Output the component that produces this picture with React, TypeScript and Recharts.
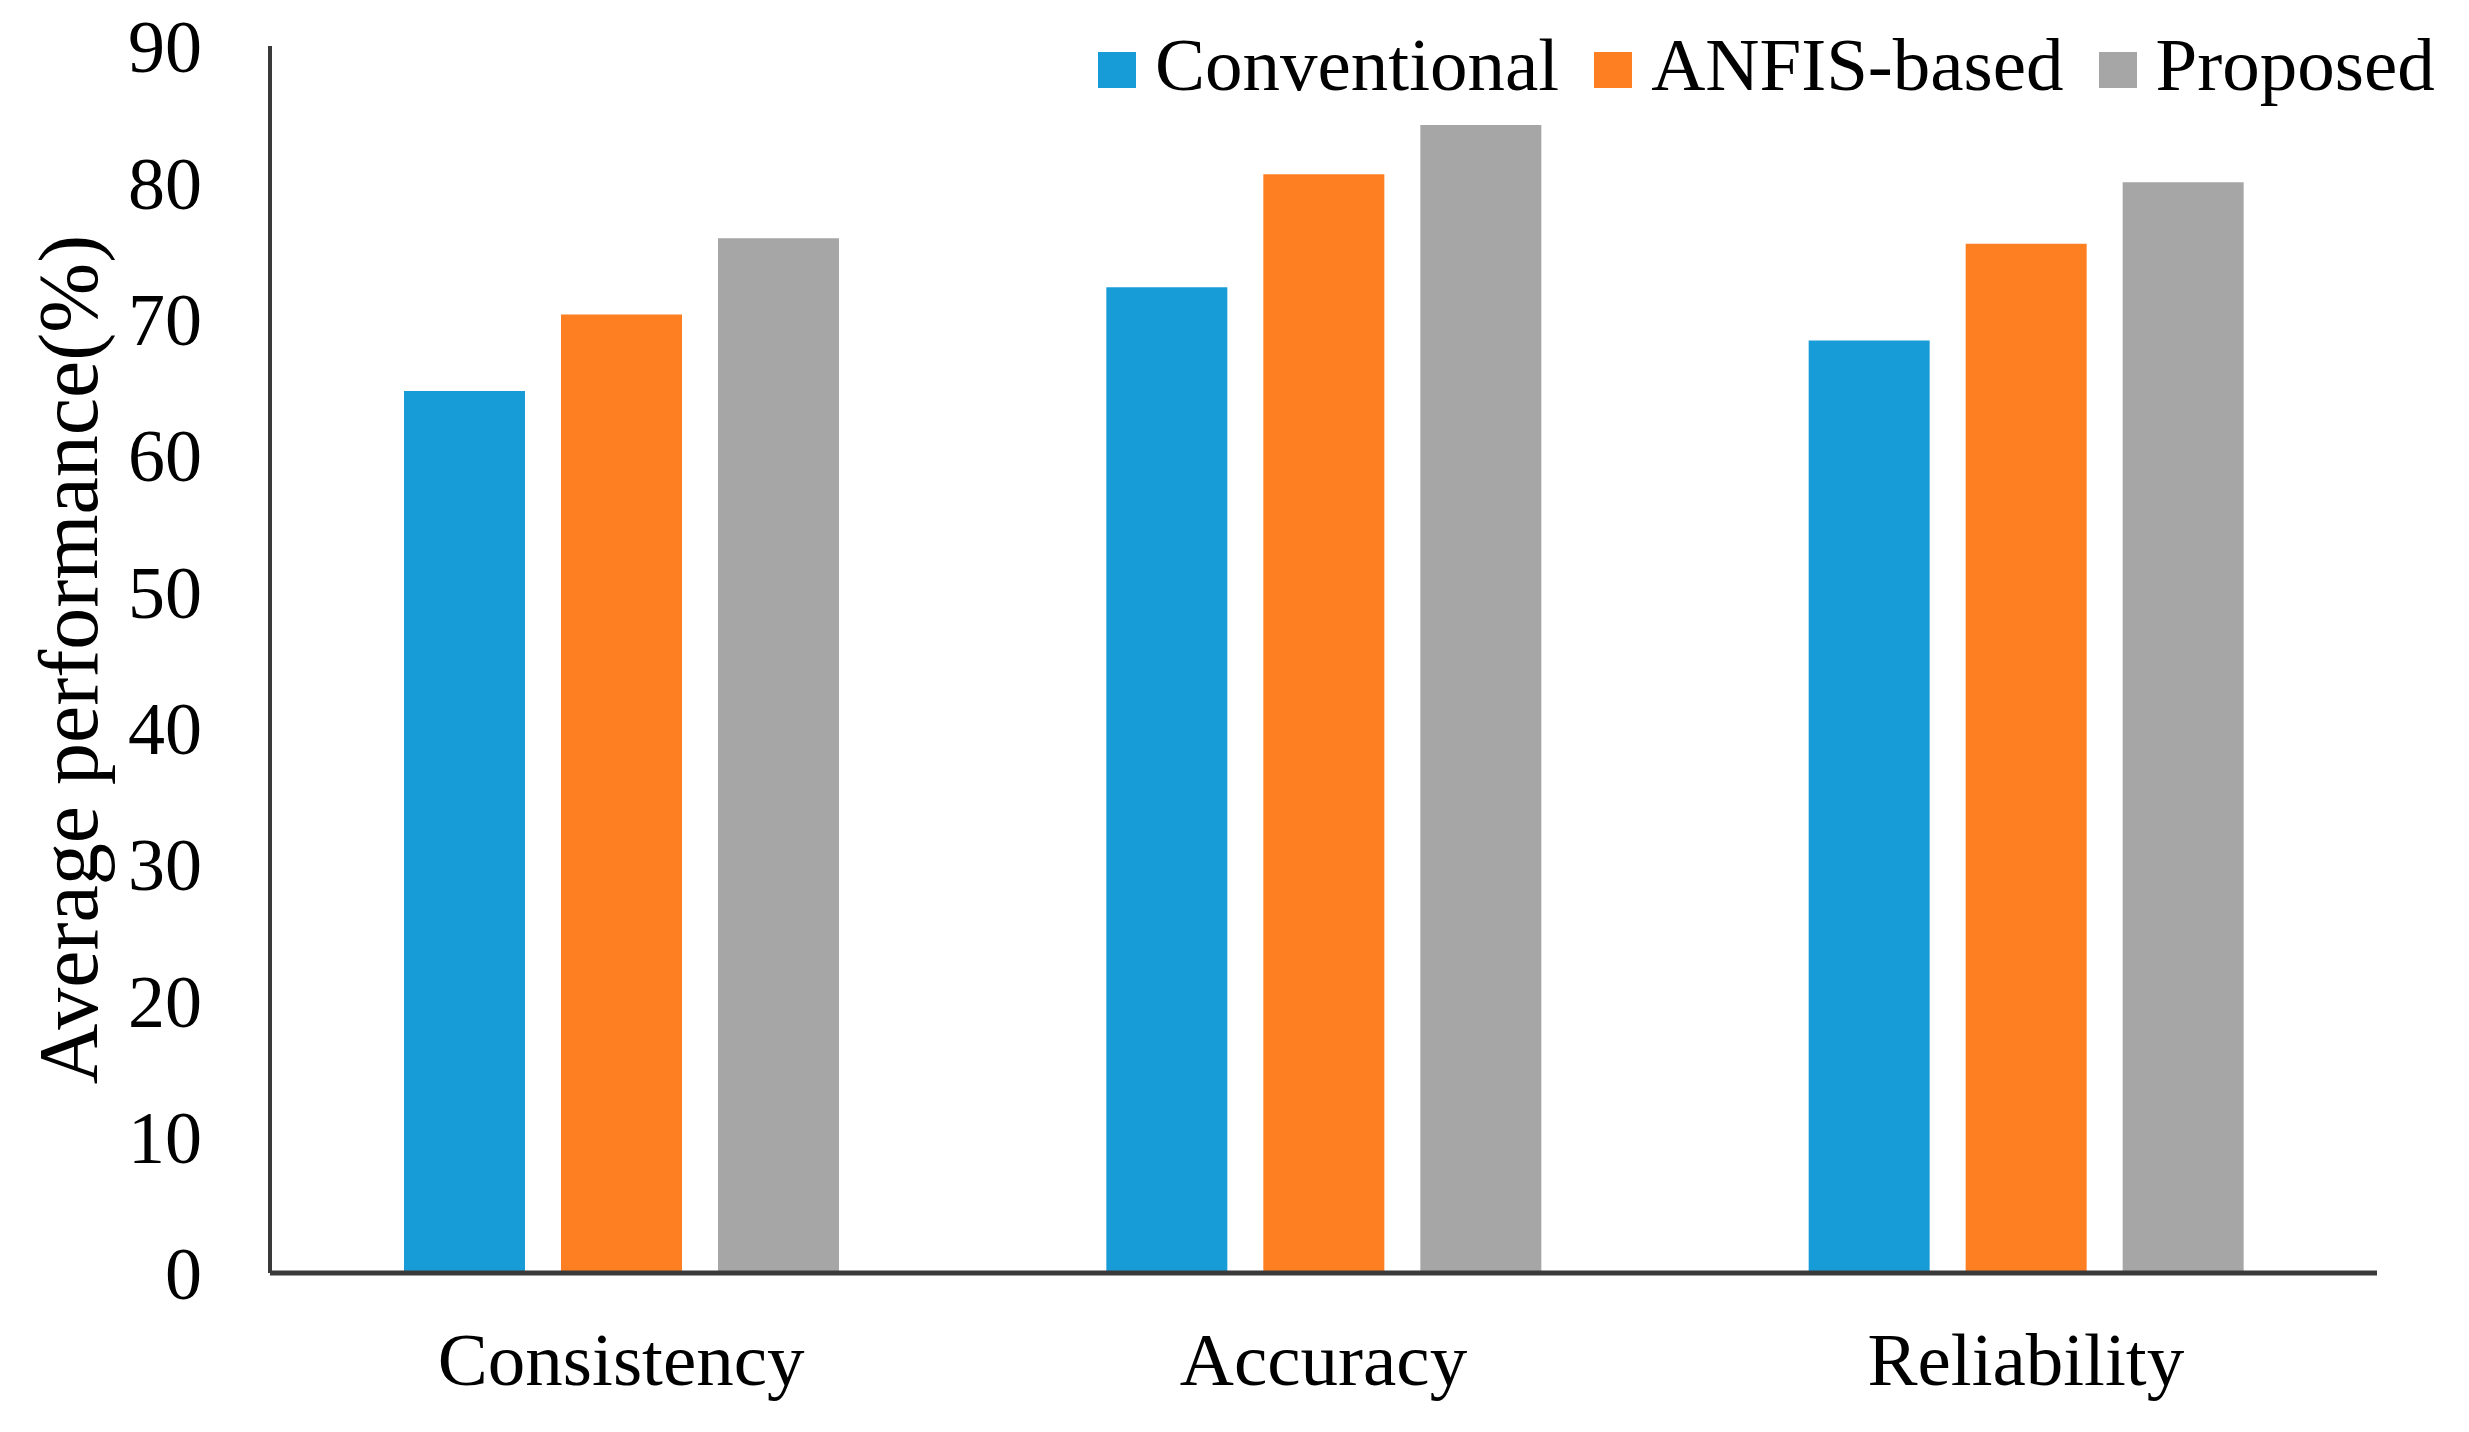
import React from 'react';
import { BarChart, Bar, XAxis, YAxis, Legend } from 'recharts';

const categories = ['Consistency', 'Accuracy', 'Reliability'];
const conventional = [64.7, 72.3, 68.4];
const anfisBased = [70.3, 80.6, 75.5];
const proposed = [75.9, 84.2, 80.0];
const yTicks = [0, 10, 20, 30, 40, 50, 60, 70, 80, 90];

const seriesNames = ['Conventional', 'ANFIS-based', 'Proposed'];
const seriesKeys = ['conventional', 'anfis', 'proposed'];
const seriesColors = ['#189CD8', '#FE7F22', '#A6A6A6'];

const data = categories.map((c, i) => ({
  name: c,
  conventional: conventional[i],
  anfis: anfisBased[i],
  proposed: proposed[i],
}));

const FONT = '"Liberation Serif", "Times New Roman", serif';

const renderLegend = () => (
  <div style={{ display: 'flex', flexDirection: 'row', alignItems: 'flex-start', fontFamily: FONT, fontSize: 75, lineHeight: '76px', color: '#000', whiteSpace: 'nowrap' }}>
    {seriesNames.map((n, i) => (
      <div key={n} style={{ display: 'flex', alignItems: 'flex-start', marginRight: i < 2 ? 35 : 0 }}>
        <div style={{ width: 38, height: 36, background: seriesColors[i], marginTop: 25, marginRight: 19 }} />
        <span>{n}</span>
      </div>
    ))}
  </div>
);

const YTitle = (props: any) => {
  const vb = props.viewBox || { x: 0, y: 0, width: 0, height: 0 };
  const cx = vb.x + 68;
  const cy = vb.y + vb.height / 2;
  return (
    <text
      x={cx}
      y={cy}
      transform={`rotate(-90, ${cx}, ${cy})`}
      textAnchor="middle"
      dominantBaseline="central"
      fontFamily={FONT}
      fontSize={84}
      fill="#000"
    >
      Average performance(%)
    </text>
  );
};

export default function App() {
  return (
    <div style={{ position: 'absolute', left: 0, top: 0, background: '#fff' }}>
      <BarChart
        width={2469}
        height={1432}
        data={data}
        margin={{ top: 46, right: 92, bottom: 0, left: 0 }}
        barSize={121}
        barGap={36}
      >
        <XAxis
          dataKey="name"
          height={159}
          axisLine={{ stroke: '#3a3a3a', strokeWidth: 5 }}
          tickLine={false}
          tickSize={0}
          tickMargin={59}
          tick={{ fontFamily: FONT, fontSize: 75, fill: '#000' }}
          interval={0}
        />
        <YAxis
          width={270}
          domain={[0, 90]}
          ticks={yTicks}
          axisLine={{ stroke: '#3a3a3a', strokeWidth: 4 }}
          tickLine={false}
          tickSize={0}
          tickMargin={68}
          tick={{ fontFamily: FONT, fontSize: 74, fill: '#000' }}
          label={<YTitle />}
          interval={0}
        />
        <Legend
          layout="vertical"
          verticalAlign="middle"
          align="center"
          content={renderLegend}
          wrapperStyle={{ position: 'absolute', left: 1098, top: 27, width: 1360, height: 90 }}
        />
        {seriesKeys.map((k, i) => (
          <Bar key={k} dataKey={k} name={seriesNames[i]} fill={seriesColors[i]} isAnimationActive={false} />
        ))}
      </BarChart>
    </div>
  );
}
